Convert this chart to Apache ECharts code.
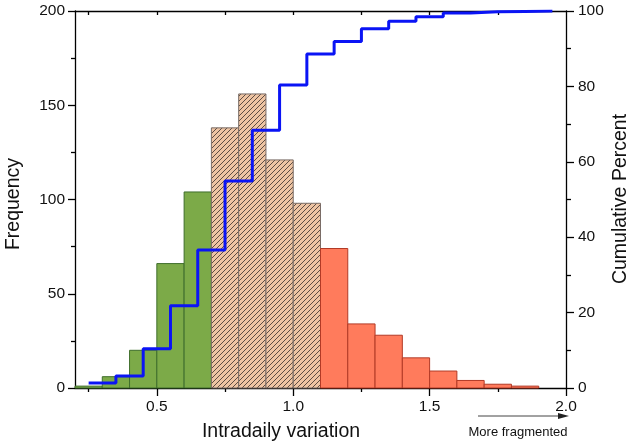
<!DOCTYPE html>
<html>
<head>
<meta charset="utf-8">
<script src="https://cdn.jsdelivr.net/npm/echarts@6/dist/echarts.min.js"></script>
<style>
html,body{margin:0;padding:0;background:#fff;}
#chart{width:632px;height:447px;}
</style>
</head>
<body>
<div id="chart"></div>
<script>
// ---- data ----
const binLeft  = [0.2,0.3,0.4,0.5,0.6,0.7,0.8,0.9,1.0,1.1,1.2,1.3,1.4,1.5,1.6,1.7,1.8];
const binRight = [0.3,0.4,0.5,0.6,0.7,0.8,0.9,1.0,1.1,1.2,1.3,1.4,1.5,1.6,1.7,1.8,1.9];
const frequency = [1,6,20,66,104,138,156,121,98,74,34,28,16,9,4,2,1];
const binGroup = ['low','low','low','low','low','mid','mid','mid','mid','high','high','high','high','high','high','high','high'];
const cumX   = [0.25,0.35,0.45,0.55,0.65,0.75,0.85,0.95,1.05,1.15,1.25,1.35,1.45,1.55,1.65,1.75,1.85,1.95];
const cumPct = [1.3,3.2,10.4,21.8,36.6,54.9,68.4,80.4,88.6,91.9,95.3,97.3,98.5,99.5,99.8,99.9,100,100];
const xLabelValues = [0.5,1.0,1.5,2.0];
const xMinorValues = [0.25,0.75,1.25,1.75];
const xTopTickValues = [0.25,0.5,0.75,1.0,1.25,1.5,1.75];

// ---- styles ----
function hatchCanvas(){
  const c=document.createElement('canvas'); c.width=5; c.height=5;
  const g=c.getContext('2d');
  g.fillStyle='#eec4a3'; g.fillRect(0,0,5,5);
  g.strokeStyle='#54463e'; g.lineWidth=0.95;
  g.beginPath();
  g.moveTo(0,5); g.lineTo(5,0);
  g.moveTo(-1,1); g.lineTo(1,-1);
  g.moveTo(4,6); g.lineTo(6,4);
  g.stroke();
  return c;
}
const hatch = {image: hatchCanvas(), repeat: 'repeat'};
const groupStyle = {
  low:  {fill:'#7caa48', stroke:'#3f6e2c'},
  mid:  {fill: hatch,    stroke:'#7a6c66'},
  high: {fill:'#ff7b5c', stroke:'#b23a26'}
};
const FONT = 'Liberation Sans, Arial, sans-serif';

const histData = binLeft.map((l,i)=>[l, binRight[i], frequency[i], i]);
const cumData = cumX.map((x,i)=>[x, cumPct[i]]);

const chart = echarts.init(document.getElementById('chart'), null, {renderer:'canvas'});
chart.setOption({
  animation:false,
  backgroundColor:'#fff',
  grid:{left:75,right:66,top:11,bottom:59,containLabel:false},
  xAxis:[
    {type:'value',min:0.2,max:2.0,position:'bottom',
     axisLine:{show:true,lineStyle:{color:'#000',width:1.3}},
     axisTick:{show:true,inside:false,length:8,customValues:xLabelValues,lineStyle:{color:'#000',width:1.3}},
     axisLabel:{show:true,customValues:xLabelValues,margin:11,color:'#111',fontSize:15.5,fontFamily:FONT,
       formatter:v=>Number(v).toFixed(1)},
     splitLine:{show:false}},
    {type:'value',min:0.2,max:2.0,position:'bottom',
     axisLine:{show:false},
     axisTick:{show:true,inside:false,length:4,customValues:xMinorValues,lineStyle:{color:'#000',width:1.3}},
     axisLabel:{show:false},splitLine:{show:false}},
    {type:'value',min:0.2,max:2.0,position:'top',
     axisLine:{show:true,lineStyle:{color:'#000',width:1.3}},
     axisTick:{show:true,inside:true,length:4,customValues:xTopTickValues,lineStyle:{color:'#000',width:1.3}},
     axisLabel:{show:false},splitLine:{show:false}}
  ],
  yAxis:[
    {type:'value',min:0,max:200,interval:50,position:'left',
     axisLine:{show:true,lineStyle:{color:'#000',width:1.3}},
     axisTick:{show:true,inside:false,length:7,lineStyle:{color:'#000',width:1.3}},
     minorTick:{show:true,splitNumber:2,length:4,lineStyle:{color:'#000',width:1.3}},
     axisLabel:{margin:10,color:'#111',fontSize:15.5,fontFamily:FONT},
     splitLine:{show:false}},
    {type:'value',min:0,max:100,interval:20,position:'right',
     axisLine:{show:true,lineStyle:{color:'#000',width:1.3}},
     axisTick:{show:true,inside:false,length:8,lineStyle:{color:'#000',width:1.3}},
     minorTick:{show:true,splitNumber:2,length:5,lineStyle:{color:'#000',width:1.3}},
     axisLabel:{margin:12,color:'#111',fontSize:15.5,fontFamily:FONT},
     splitLine:{show:false}}
  ],
  series:[
    {type:'custom',xAxisIndex:0,yAxisIndex:0,data:histData,
     encode:{x:[0,1],y:2},
     renderItem:function(params,api){
       const x0=api.value(0),x1=api.value(1),v=api.value(2);
       const idx=api.value(3);
       const st=groupStyle[binGroup[idx]];
       const p0=api.coord([x0,v]), p1=api.coord([x1,0]);
       return {type:'rect',
         shape:{x:p0[0],y:p0[1],width:p1[0]-p0[0],height:p1[1]-p0[1]},
         style:{fill:st.fill,stroke:st.stroke,lineWidth:1}};
     }},
    {type:'line',xAxisIndex:0,yAxisIndex:1,data:cumData,step:'end',
     showSymbol:false,symbol:'none',
     lineStyle:{color:'#0a14f5',width:3},z:5}
  ],
  graphic:[
    {type:'text',x:14,y:204,rotation:Math.PI/2,
     style:{text:'Frequency',fill:'#111',font:'19.5px '+FONT,align:'center',verticalAlign:'middle'}},
    {type:'text',x:621,y:199,rotation:Math.PI/2,
     style:{text:'Cumulative Percent',fill:'#111',font:'19.5px '+FONT,align:'center',verticalAlign:'middle'}},
    {type:'text',x:281,y:432,
     style:{text:'Intradaily variation',fill:'#111',font:'19.5px '+FONT,align:'center',verticalAlign:'middle'}},
    {type:'text',x:518,y:432,
     style:{text:'More fragmented',fill:'#111',font:'13px '+FONT,align:'center',verticalAlign:'middle'}},
    {type:'line',shape:{x1:478,y1:416,x2:562,y2:416},style:{stroke:'#444',lineWidth:1}},
    {type:'polygon',shape:{points:[[569,416],[558,413],[558,419]]},style:{fill:'#222'}}
  ]
});
</script>
</body>
</html>
